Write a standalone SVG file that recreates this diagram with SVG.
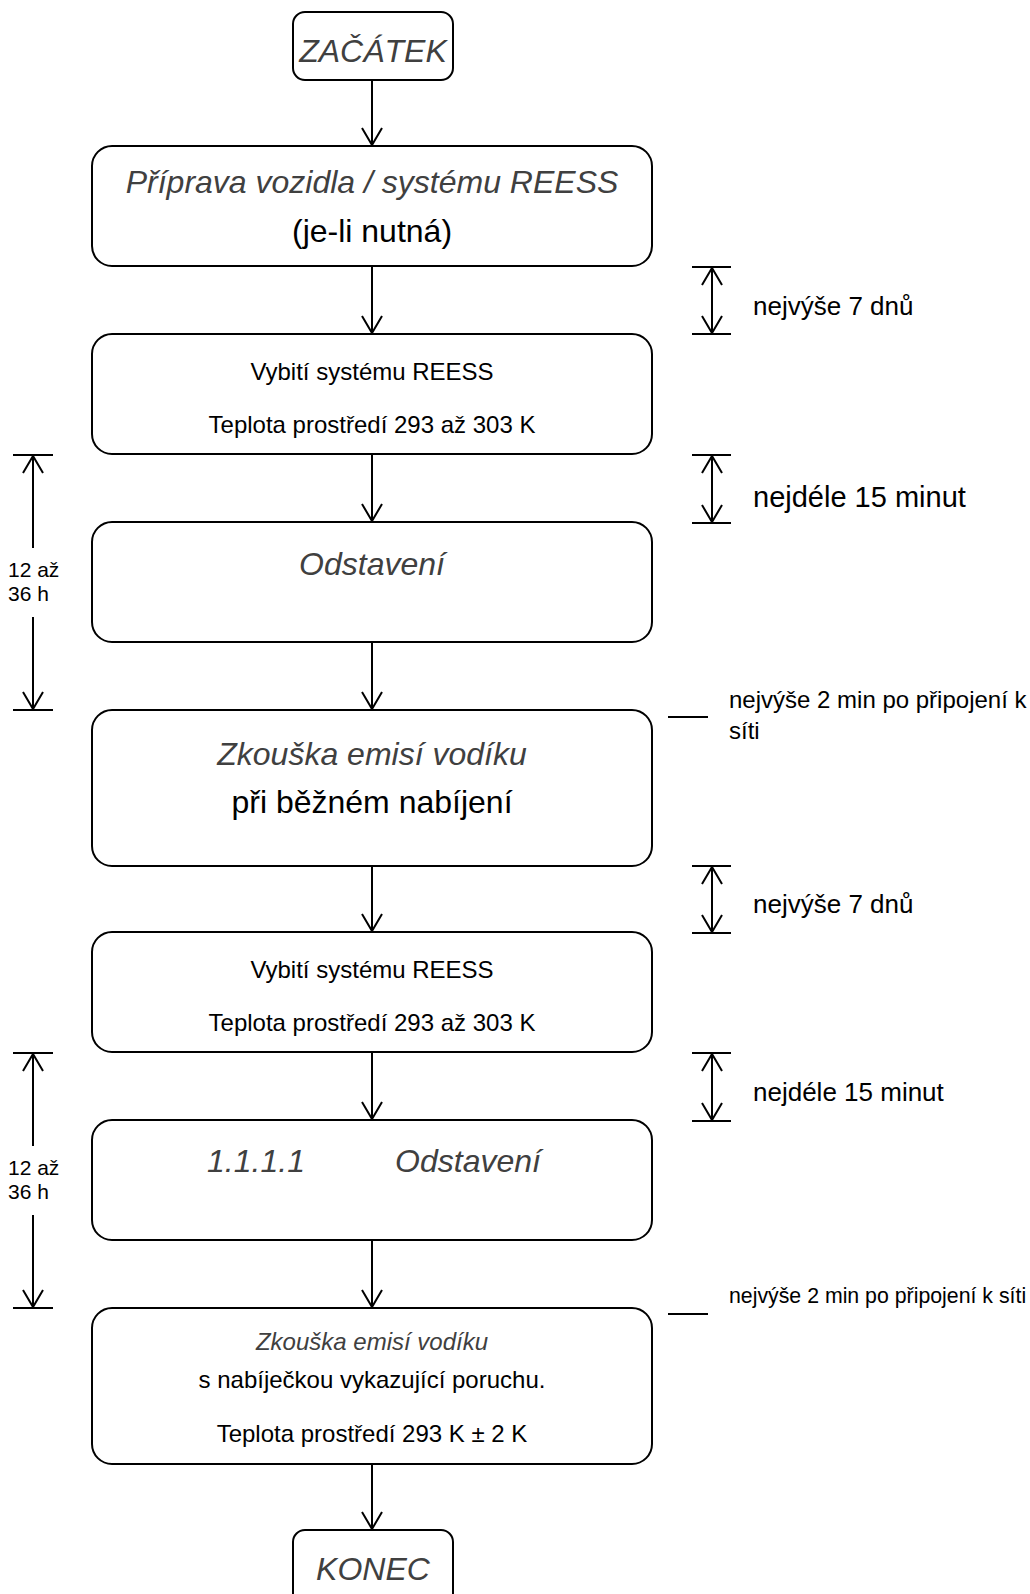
<svg xmlns="http://www.w3.org/2000/svg" width="1030" height="1594" viewBox="0 0 1030 1594">
<defs>
<marker id="ah" markerWidth="24" markerHeight="24" viewBox="-20 -12 24 24" refX="0" refY="0" orient="auto" markerUnits="userSpaceOnUse">
<path d="M-17,-10 L0,0 L-17,10" fill="none" stroke="#000" stroke-width="2"/>
</marker>
<marker id="ahs" markerWidth="24" markerHeight="24" viewBox="-20 -12 24 24" refX="0" refY="0" orient="auto-start-reverse" markerUnits="userSpaceOnUse">
<path d="M-17,-10 L0,0 L-17,10" fill="none" stroke="#000" stroke-width="2"/>
</marker>
</defs>
<style>
.box{fill:#fff;stroke:#000;stroke-width:2}
.t{font-family:"Liberation Sans",Arial,sans-serif;fill:#000;text-anchor:middle}
.i{font-family:"Liberation Sans",Arial,sans-serif;fill:#404040;font-style:italic;text-anchor:middle}
.l{font-family:"Liberation Sans",Arial,sans-serif;fill:#000}
.c{stroke:#000;stroke-width:2;fill:none}
</style>
<rect width="1030" height="1594" fill="#fff"/>
<g id="connectors">
<line class="c" x1="372" y1="80" x2="372" y2="145" marker-end="url(#ah)"/>
<line class="c" x1="372" y1="266" x2="372" y2="333" marker-end="url(#ah)"/>
<line class="c" x1="372" y1="454" x2="372" y2="521" marker-end="url(#ah)"/>
<line class="c" x1="372" y1="642" x2="372" y2="709" marker-end="url(#ah)"/>
<line class="c" x1="372" y1="866" x2="372" y2="931" marker-end="url(#ah)"/>
<line class="c" x1="372" y1="1052" x2="372" y2="1119" marker-end="url(#ah)"/>
<line class="c" x1="372" y1="1240" x2="372" y2="1307" marker-end="url(#ah)"/>
<line class="c" x1="372" y1="1464" x2="372" y2="1529" marker-end="url(#ah)"/>
</g>
<g id="start"><rect class="box" x="293" y="12" width="160" height="68" rx="12"/><text class="i" x="373" y="62" font-size="32">ZAČÁTEK</text></g>
<g id="prep"><rect class="box" x="92" y="146" width="560" height="120" rx="20"/>
<text class="i" x="372" y="193" font-size="32">Příprava vozidla / systému REESS</text>
<text class="t" x="372" y="242" font-size="32">(je-li nutná)</text></g>
<g id="discharge1"><rect class="box" x="92" y="334" width="560" height="120" rx="20"/>
<text class="t" x="372" y="380" font-size="24">Vybití systému REESS</text>
<text class="t" x="372" y="433" font-size="24">Teplota prostředí 293 až 303 K</text></g>
<g id="soak1"><rect class="box" x="92" y="522" width="560" height="120" rx="20"/>
<text class="i" x="372" y="575" font-size="32">Odstavení</text></g>
<g id="test1"><rect class="box" x="92" y="710" width="560" height="156" rx="20"/>
<text class="i" x="372" y="765" font-size="32">Zkouška emisí vodíku</text>
<text class="t" x="372" y="813" font-size="32">při běžném nabíjení</text></g>
<g id="discharge2"><rect class="box" x="92" y="932" width="560" height="120" rx="20"/>
<text class="t" x="372" y="978" font-size="24">Vybití systému REESS</text>
<text class="t" x="372" y="1031" font-size="24">Teplota prostředí 293 až 303 K</text></g>
<g id="soak2"><rect class="box" x="92" y="1120" width="560" height="120" rx="20"/>
<text class="i" x="256" y="1172" font-size="32">1.1.1.1</text>
<text class="i" x="468" y="1172" font-size="32">Odstavení</text></g>
<g id="test2"><rect class="box" x="92" y="1308" width="560" height="156" rx="20"/>
<text class="i" x="372" y="1350" font-size="24">Zkouška emisí vodíku</text>
<text class="t" x="372" y="1388" font-size="24">s nabíječkou vykazující poruchu.</text>
<text class="t" x="372" y="1442" font-size="24">Teplota prostředí 293 K ± 2 K</text></g>
<g id="end"><rect class="box" x="293" y="1530" width="160" height="80" rx="12"/><text class="i" x="373" y="1580" font-size="32">KONEC</text></g>
<g id="dims">
<line class="c" x1="692" y1="267" x2="731" y2="267"/><line class="c" x1="692" y1="334" x2="731" y2="334"/>
<line class="c" x1="712" y1="268" x2="712" y2="333" marker-start="url(#ahs)" marker-end="url(#ah)"/>
<text class="l" x="753" y="315" font-size="26">nejvýše 7 dnů</text>
<line class="c" x1="692" y1="455" x2="731" y2="455"/><line class="c" x1="692" y1="523" x2="731" y2="523"/>
<line class="c" x1="712" y1="456" x2="712" y2="522" marker-start="url(#ahs)" marker-end="url(#ah)"/>
<text class="l" x="753" y="507" font-size="29">nejdéle 15 minut</text>
<line class="c" x1="668" y1="717" x2="708" y2="717"/>
<text class="l" x="729" y="708" font-size="24">nejvýše 2 min po připojení k</text>
<text class="l" x="729" y="739" font-size="24">síti</text>
<line class="c" x1="692" y1="866" x2="731" y2="866"/><line class="c" x1="692" y1="933" x2="731" y2="933"/>
<line class="c" x1="712" y1="867" x2="712" y2="932" marker-start="url(#ahs)" marker-end="url(#ah)"/>
<text class="l" x="753" y="913" font-size="26">nejvýše 7 dnů</text>
<line class="c" x1="692" y1="1053" x2="731" y2="1053"/><line class="c" x1="692" y1="1121" x2="731" y2="1121"/>
<line class="c" x1="712" y1="1054" x2="712" y2="1120" marker-start="url(#ahs)" marker-end="url(#ah)"/>
<text class="l" x="753" y="1101" font-size="26">nejdéle 15 minut</text>
<line class="c" x1="668" y1="1314" x2="708" y2="1314"/>
<text class="l" x="729" y="1303" font-size="21.3">nejvýše 2 min po připojení k síti</text>
<line class="c" x1="13" y1="455" x2="53" y2="455"/><line class="c" x1="13" y1="710" x2="53" y2="710"/>
<line class="c" x1="33" y1="456" x2="33" y2="548" marker-start="url(#ahs)"/>
<line class="c" x1="33" y1="617" x2="33" y2="709" marker-end="url(#ah)"/>
<text class="l" x="8" y="577" font-size="21">12 až</text>
<text class="l" x="8" y="601" font-size="21">36 h</text>
<line class="c" x1="13" y1="1053" x2="53" y2="1053"/><line class="c" x1="13" y1="1308" x2="53" y2="1308"/>
<line class="c" x1="33" y1="1054" x2="33" y2="1146" marker-start="url(#ahs)"/>
<line class="c" x1="33" y1="1215" x2="33" y2="1307" marker-end="url(#ah)"/>
<text class="l" x="8" y="1175" font-size="21">12 až</text>
<text class="l" x="8" y="1199" font-size="21">36 h</text>
</g>
</svg>
